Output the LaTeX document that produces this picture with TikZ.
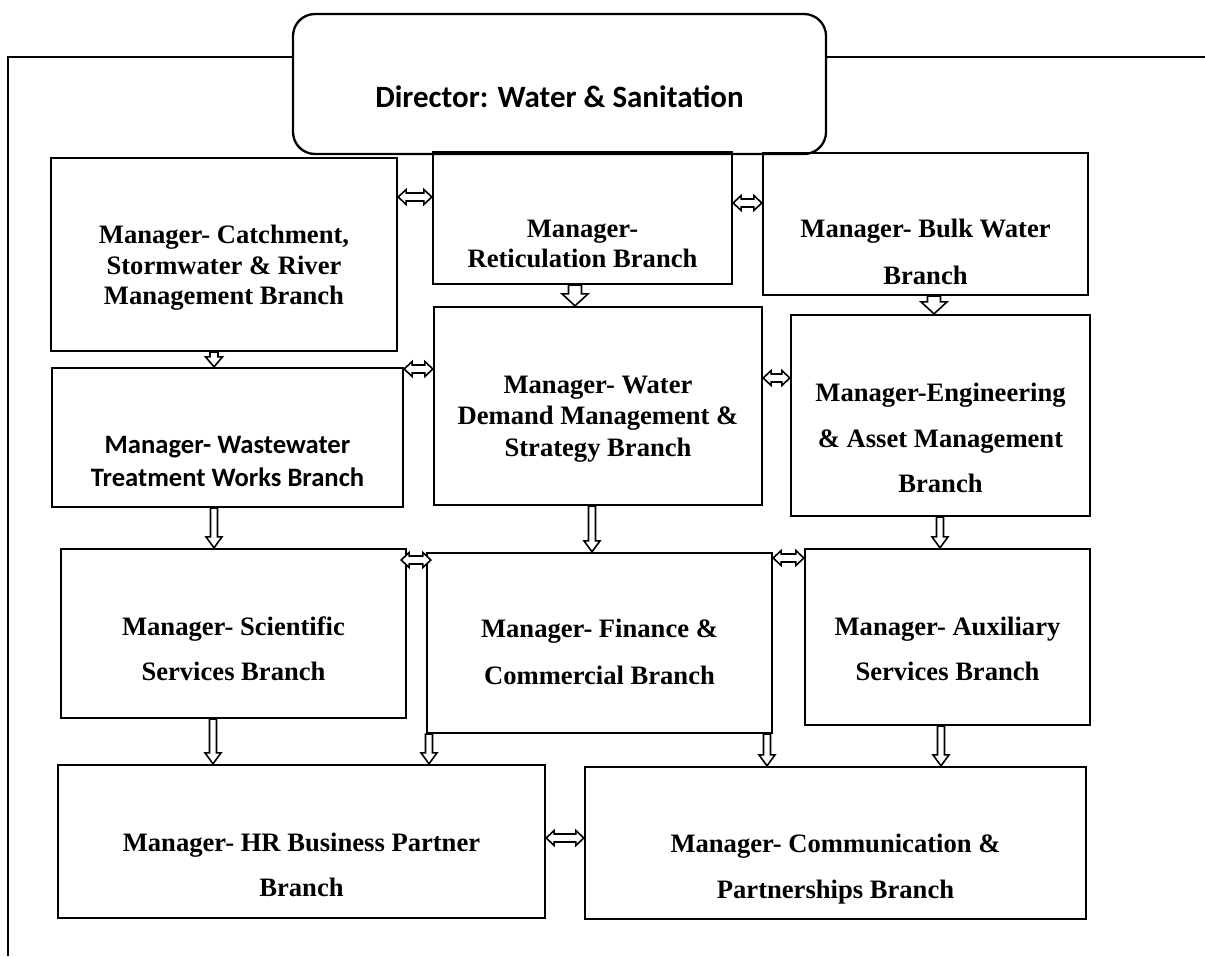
\documentclass[tikz,border=0pt]{standalone}
\usepackage{fontspec}
\setmainfont{Liberation Serif}
\newfontfamily\carl{Carlito}
\usetikzlibrary{calc}
\tikzset{
  box/.style={draw, line width=2.3pt, inner sep=0pt},
  txt/.style={align=center, inner sep=0pt, font=\bfseries\fontsize{26.6}{#1}\selectfont},
  ctxt/.style={align=center, inner sep=0pt, font=\carl\bfseries\fontsize{26.6}{#1}\selectfont},
  frame/.style={draw, line width=2pt},
  blk/.style={draw, line width=1.6pt, fill=white, line join=miter},
  vdown/.style n args={3}{to path={let \p1=(\tikztostart), \p2=(\tikztotarget) in
     (\x1-#1,\y1) -- (\x1-#1,\y2+#3) -- (\x1-#2,\y2+#3) -- (\x1,\y2) -- (\x1+#2,\y2+#3) -- (\x1+#1,\y2+#3) -- (\x1+#1,\y1) -- cycle}},
  hboth/.style n args={3}{to path={let \p1=(\tikztostart), \p2=(\tikztotarget) in
     (\x1,\y1) -- (\x1+#3,\y1+#2) -- (\x1+#3,\y1+#1) -- (\x2-#3,\y1+#1) -- (\x2-#3,\y1+#2) -- (\x2,\y1) -- (\x2-#3,\y1-#2) -- (\x2-#3,\y1-#1) -- (\x1+#3,\y1-#1) -- (\x1+#3,\y1-#2) -- cycle}},
  fatdown/.style={vdown={6.5pt}{13pt}{12pt}},
  middown/.style={vdown={4pt}{8.5pt}{10pt}},
  thindown/.style={vdown={3.5pt}{8pt}{11pt}},
  dbl/.style={hboth={4pt}{7.5pt}{8pt}},
}
\begin{document}
\begin{tikzpicture}[x=1pt,y=-1pt]
\useasboundingbox (0,0) rectangle (1205,956);

% director
\node[box, rounded corners=22pt, minimum width=533pt, minimum height=140pt] (dir) at (559.5,84) {};
\node[font=\carl\bfseries\fontsize{31}{37}\selectfont, inner sep=0pt] (dirt) at (559.5,97) {Director: Water \& Sanitation};

% frame line
\coordinate (fr) at (1205,57);
\coordinate (fl) at (8,57);
\coordinate (fb) at (8,956);
\draw[frame] (fr) -- (dir.east |- fr);
\draw[frame] (dir.west |- fl) -- (fl) -- (fb);

% boxes
\node[box, minimum width=346pt, minimum height=193pt] (catch) at (224,254.5) {};
\node[box, minimum width=299pt, minimum height=132pt] (ret) at (582.5,218) {};
\node[box, minimum width=325pt, minimum height=142pt] (bulk) at (925.5,224) {};
\node[box, minimum width=351pt, minimum height=139pt] (ww) at (227.5,437.5) {};
\node[box, minimum width=328pt, minimum height=198pt] (wdm) at (598,406) {};
\node[box, minimum width=299pt, minimum height=201pt] (eng) at (940.5,415.5) {};
\node[box, minimum width=345pt, minimum height=169pt] (sci) at (233.5,633.5) {};
\node[box, minimum width=345pt, minimum height=180pt] (fin) at (599.5,643) {};
\node[box, minimum width=285pt, minimum height=176pt] (aux) at (947.5,637) {};
\node[box, minimum width=487pt, minimum height=153pt] (hr) at (301.5,841.5) {};
\node[box, minimum width=501pt, minimum height=152pt] (com) at (835.5,843) {};

% texts
\node[txt=30.5] (catcht) at (224,268) {Manager- Catchment,\\Stormwater \& River\\Management Branch};
\node[txt=30] (rett) at (582.5,244) {Manager-\\Reticulation Branch};
\node[txt=47] (bulkt) at (925.5,252) {Manager- Bulk Water\\Branch};
\node[ctxt=33] (wwt) at (227.5,461) {Manager- Wastewater\\Treatment Works Branch};
\node[txt=31.5] (wdmt) at (598,419) {Manager- Water\\Demand Management \&\\Strategy Branch};
\node[txt=45.5] (engt) at (940.5,438) {Manager-Engineering\\\& Asset Management\\Branch};
\node[txt=45] (scit) at (233.5,649) {Manager- Scientific\\Services Branch};
\node[txt=47] (fint) at (599.5,652) {Manager- Finance \&\\Commercial Branch};
\node[txt=45] (auxt) at (947.5,649) {Manager- Auxiliary\\Services Branch};
\node[txt=45] (hrt) at (301.5,865) {Manager- HR Business Partner\\Branch};
\node[txt=46] (comt) at (835.5,869) {Manager- Communication \&\\Partnerships Branch};

% double arrows
\path[blk] (catch.east |- 0,197) to[dbl] (ret.west |- 0,197);
\path[blk] (ret.east |- 0,203) to[dbl] (bulk.west |- 0,203);
\path[blk] (ww.east |- 0,369) to[dbl] (wdm.west |- 0,369);
\path[blk] (wdm.east |- 0,378) to[dbl] (eng.west |- 0,378);
\path[blk] ($(sci.east |- 0,560)+(-6,0)$) to[dbl] ($(fin.west |- 0,560)+(5,0)$);
\path[blk] (fin.east |- 0,558) to[dbl] (aux.west |- 0,558);
\path[blk] (hr.east |- 0,838) to[dbl] (com.west |- 0,838);

% down arrows
\path[blk] (ret.south -| 575,0) to[fatdown] (wdm.north -| 575,0);
\path[blk] (bulk.south -| 934,0) to[fatdown] (eng.north -| 934,0);
\path[blk] (catch.south -| 214,0) to[middown] (ww.north -| 214,0);
\path[blk] (ww.south -| 214,0) to[thindown] (sci.north -| 214,0);
\path[blk] (wdm.south -| 592,0) to[thindown] (fin.north -| 592,0);
\path[blk] (eng.south -| 940,0) to[thindown] (aux.north -| 940,0);
\path[blk] (sci.south -| 213,0) to[thindown] (hr.north -| 213,0);
\path[blk] (fin.south -| 429,0) to[thindown] (hr.north -| 429,0);
\path[blk] (fin.south -| 767,0) to[thindown] (com.north -| 767,0);
\path[blk] (aux.south -| 941,0) to[thindown] (com.north -| 941,0);
\end{tikzpicture}
\end{document}
